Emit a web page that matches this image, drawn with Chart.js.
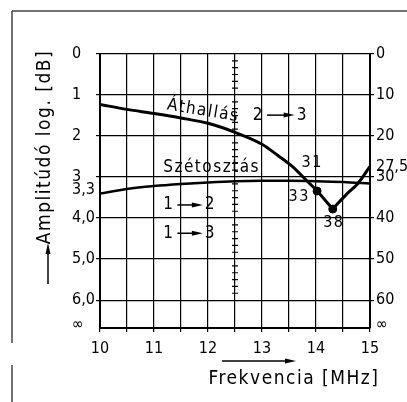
<!DOCTYPE html>
<html>
<head>
<meta charset="utf-8">
<script src="https://cdn.jsdelivr.net/npm/chart.js@4.4.0/dist/chart.umd.min.js"></script>
<style>
  html, body { margin: 0; padding: 0; background: #fff; }
</style>
</head>
<body>
<canvas id="chart" width="407" height="402"></canvas>
<script>
// tick labels
const freqTicks = [10, 11, 12, 13, 14, 15];
const leftTickValues = [0, 10, 20, 30, 33, 40, 50, 60, 66];
const leftTickLabels = ['0', '1', '2', '3', '3,3', '4,0', '5,0', '6,0', '∞'];
const rightTickValues = [0, 10, 20, 27.5, 30, 40, 50, 60, 66];
const rightTickLabels = ['0', '10', '20', '27,5', '30', '40', '50', '60', '∞'];
const gridDb = [0, 10, 20, 30, 40, 50, 60];

// series (MHz / dB)
const athallasFreq = [10, 10.5, 11, 11.5, 12, 12.5, 13, 13.3, 13.55, 13.83, 14.02, 14.31, 14.55, 14.78, 15];
const athallasDb = [12.3, 13.5, 14.5, 15.6, 16.9, 19.1, 22.0, 24.8, 27.3, 30.9, 33.4, 37.8, 34.4, 31.5, 27.4];
const szetosztasFreq = [10, 10.5, 11, 11.5, 12, 12.5, 13, 13.5, 14, 14.5, 15];
const szetosztasDb = [34.0, 32.9, 32.2, 31.7, 31.3, 31.0, 30.9, 30.9, 31.0, 31.2, 31.6];
const markedFreq = [14.02, 14.31];
const markedDb = [33.4, 37.8];

const FONT = "'Liberation Sans Narrow', 'DejaVu Sans Condensed', 'Liberation Sans', sans-serif";
Chart.defaults.font.family = FONT;
Chart.defaults.font.size = 16;
Chart.defaults.color = '#000';

const pts = (xs, ys) => xs.map((x, i) => ({ x: x, y: ys[i] }));
const minIdx = athallasDb.indexOf(Math.max(...athallasDb));
const athallas = pts(athallasFreq, athallasDb);

function arrow(ctx, x1, y1, x2, y2) {
  const a = Math.atan2(y2 - y1, x2 - x1);
  ctx.beginPath();
  ctx.moveTo(x1, y1);
  ctx.lineTo(x2 - 6 * Math.cos(a), y2 - 6 * Math.sin(a));
  ctx.lineWidth = 1.5;
  ctx.stroke();
  ctx.save();
  ctx.translate(x2, y2);
  ctx.rotate(a);
  ctx.beginPath();
  ctx.moveTo(0, 0);
  ctx.lineTo(-11, -2.5);
  ctx.lineTo(-11, 2.5);
  ctx.closePath();
  ctx.fill();
  ctx.restore();
}

const decorations = {
  id: 'decorations',
  beforeDatasetsDraw(chart) {
    const { ctx, scales: { x, y } } = chart;
    // ruler on the 12.5 MHz line
    const rx = x.getPixelForValue(12.5);
    ctx.save();
    ctx.strokeStyle = '#000';
    ctx.lineWidth = 1.2;
    ctx.beginPath();
    for (let d = 0; d < 60; d += 10) {
      for (let i = 1; i < 6; i++) {
        const py = y.getPixelForValue(d + i * 10 / 6);
        ctx.moveTo(rx - 3, py);
        ctx.lineTo(rx + 3, py);
      }
    }
    ctx.stroke();
    ctx.restore();
  },
  afterDraw(chart) {
    const { ctx, scales: { x, y } } = chart;
    const px = (v) => x.getPixelForValue(v);
    const py = (v) => y.getPixelForValue(v);
    ctx.save();
    ctx.fillStyle = '#000';
    ctx.strokeStyle = '#000';
    ctx.textBaseline = 'middle';
    ctx.letterSpacing = '1.5px';
    ctx.font = '17px ' + FONT;

    // curve names
    ctx.save();
    ctx.translate(px(11.91), py(13.9));
    ctx.rotate(9.5 * Math.PI / 180);
    ctx.textAlign = 'center';
    ctx.fillText('Áthallás', 0, 0);
    ctx.restore();
    ctx.textAlign = 'left';
    ctx.fillText('Szétosztás', px(11.17), py(27.6));

    // port arrows
    const flow = (a, b, x1, x2, yv) => {
      const yy = py(yv);
      ctx.textAlign = 'left';
      ctx.fillText(a, px(x1), yy);
      const wa = ctx.measureText(a).width;
      ctx.textAlign = 'right';
      ctx.fillText(b, px(x2), yy);
      const wb = ctx.measureText(b).width;
      arrow(ctx, px(x1) + wa + 3, yy, px(x2) - wb - 2, yy);
    };
    flow('2', '3', 12.83, 13.85, 14.9);
    flow('1', '2', 11.17, 12.15, 36.8);
    flow('1', '3', 11.17, 12.15, 43.7);

    // point values
    ctx.textAlign = 'center';
    ctx.font = '16px ' + FONT;
    ctx.fillText('31', px(13.93), py(26.6));
    ctx.fillText('33', px(13.69), py(34.9));
    ctx.fillText('38', px(14.33), py(41.2));

    // axis titles
    ctx.font = '19px ' + FONT;
    ctx.letterSpacing = '1.5px';
    ctx.fillText('Frekvencia [MHz]', 294, 379);
    arrow(ctx, 222, 361, 296, 361);
    ctx.save();
    ctx.translate(45, 147);
    ctx.rotate(-Math.PI / 2);
    ctx.fillText('Amplitúdó log. [dB]', 0, 0);
    ctx.restore();
    arrow(ctx, 48, 284, 48, 243);

    // frame
    ctx.strokeStyle = '#444';
    ctx.lineWidth = 1.5;
    ctx.beginPath();
    ctx.moveTo(12, 11);
    ctx.lineTo(407, 11);
    ctx.moveTo(12, 11);
    ctx.lineTo(12, 343);
    ctx.moveTo(12, 365);
    ctx.lineTo(12, 402);
    ctx.stroke();
    ctx.restore();
  },
};

const yGridColor = (ctx) => (gridDb.includes(ctx.tick.value) ? '#000' : 'rgba(0,0,0,0)');

const config = {
  type: 'line',
  data: {
    datasets: [
      {
        label: 'Áthallás',
        data: athallas.slice(0, minIdx + 1),
        borderColor: '#000',
        borderWidth: 3,
        pointRadius: 0,
        cubicInterpolationMode: 'monotone',
      },
      {
        label: 'Áthallás',
        data: athallas.slice(minIdx),
        borderColor: '#000',
        borderWidth: 3,
        pointRadius: 0,
        cubicInterpolationMode: 'monotone',
      },
      {
        label: 'Szétosztás',
        data: pts(szetosztasFreq, szetosztasDb),
        borderColor: '#000',
        borderWidth: 2.5,
        pointRadius: 0,
        cubicInterpolationMode: 'monotone',
      },
      {
        label: 'pont',
        data: pts(markedFreq, markedDb),
        showLine: false,
        pointRadius: 4,
        backgroundColor: '#000',
        borderColor: '#000',
      },
    ],
  },
  options: {
    responsive: false,
    animation: false,
    devicePixelRatio: 1,
    layout: { padding: { left: 72, top: 54, right: 0, bottom: 0 } },
    plugins: {
      legend: { display: false },
      tooltip: { enabled: false },
    },
    scales: {
      x: {
        type: 'linear',
        position: 'bottom',
        min: 10,
        max: 15,
        afterFit: (s) => { s.height = 74; },
        ticks: {
          stepSize: 0.5,
          autoSkip: false,
          maxRotation: 0,
          padding: 7,
          font: { size: 16 },
          callback: (v) => (freqTicks.includes(v) ? String(v) : ''),
        },
        grid: { color: '#000', lineWidth: 1.2, tickLength: 4 },
        border: { color: '#000', width: 2 },
      },
      y: {
        type: 'linear',
        position: 'left',
        reverse: true,
        min: 0,
        max: 66.8,
        afterFit: (s) => { s.width = 28; },
        afterBuildTicks: (s) => { s.ticks = leftTickValues.map((v) => ({ value: v })); },
        ticks: {
          autoSkip: false,
          crossAlign: 'far',
          font: { size: 16 },
          callback: (v) => leftTickLabels[leftTickValues.indexOf(v)],
        },
        grid: { color: yGridColor, lineWidth: 1.2, tickLength: 4 },
        border: { color: '#000', width: 2 },
      },
      y2: {
        type: 'linear',
        position: 'right',
        reverse: true,
        min: 0,
        max: 66.8,
        afterFit: (s) => { s.width = 37; },
        afterBuildTicks: (s) => { s.ticks = rightTickValues.map((v) => ({ value: v })); },
        ticks: {
          autoSkip: false,
          padding: 2,
          font: { size: 16 },
          callback: (v) => rightTickLabels[rightTickValues.indexOf(v)],
        },
        grid: { drawOnChartArea: false, color: yGridColor, lineWidth: 1.2, tickLength: 4 },
        border: { color: '#000', width: 2 },
      },
    },
  },
  plugins: [decorations],
};

new Chart(document.getElementById('chart'), config);
</script>
</body>
</html>
